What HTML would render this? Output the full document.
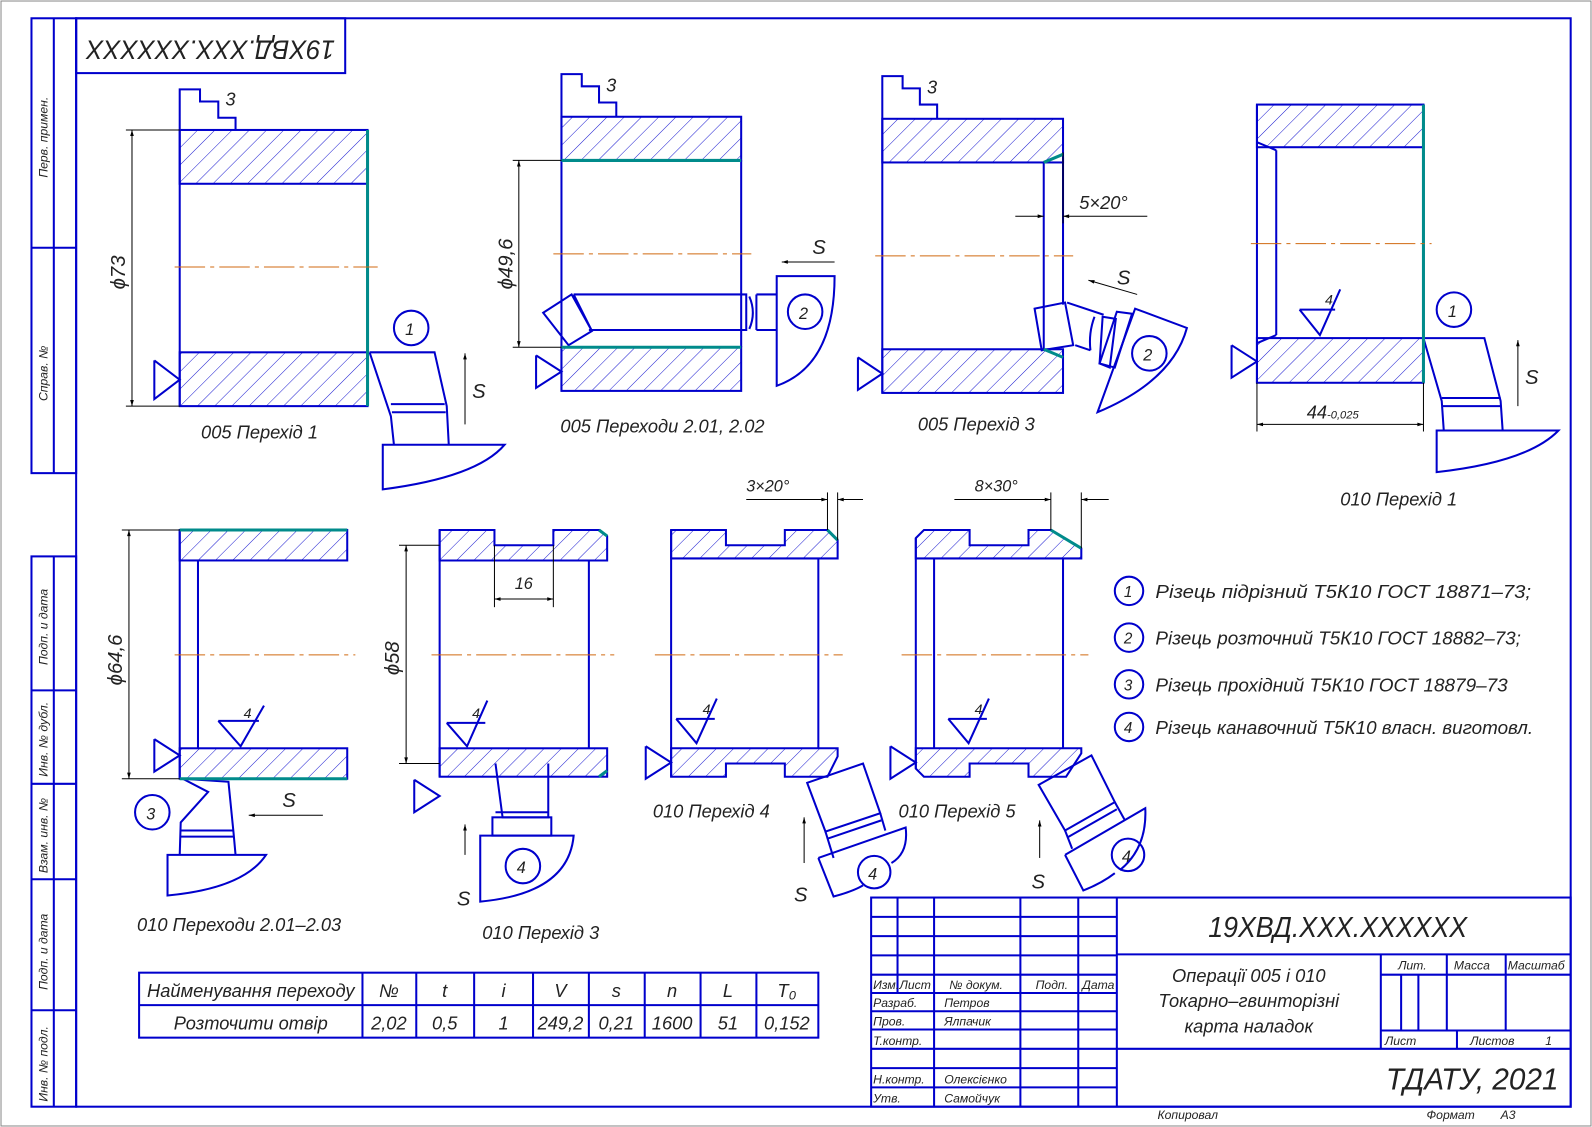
<!DOCTYPE html>
<html><head><meta charset="utf-8"><style>html,body{margin:0;padding:0;background:#fff}svg{display:block}text{font-family:"Liberation Sans",sans-serif;font-style:italic;fill:#222}</style></head><body>
<svg width="1592" height="1127" viewBox="0 0 1568 1110" preserveAspectRatio="none" xmlns="http://www.w3.org/2000/svg">
<defs>
<pattern id="h" width="12" height="12" patternUnits="userSpaceOnUse" patternTransform="rotate(45)"><line x1="0" y1="0" x2="0" y2="12" stroke="#1a1ad0" stroke-width="1"/></pattern>
<marker id="a" viewBox="0 0 10 10" refX="10" refY="5" markerWidth="10" markerHeight="6" orient="auto-start-reverse" markerUnits="userSpaceOnUse"><path d="M0,2 L10,5 L0,8z" fill="#000"/></marker>
</defs>
<rect x="1" y="1" width="1566" height="1108" fill="none" stroke="#888" stroke-width="1"/>
<g fill="none" stroke="#0000cc" stroke-width="2">
<rect x="75" y="18" width="1472" height="1072"/>
<rect x="31" y="18" width="44" height="448"/><line x1="53" y1="18" x2="53" y2="466"/><line x1="31" y1="244" x2="75" y2="244"/>
<rect x="31" y="548" width="44" height="542"/><line x1="53" y1="548" x2="53" y2="1090"/>
<line x1="31" y1="680" x2="75" y2="680"/><line x1="31" y1="772" x2="75" y2="772"/><line x1="31" y1="866" x2="75" y2="866"/><line x1="31" y1="995" x2="75" y2="995"/>
<rect x="75" y="18" width="265" height="54"/>
</g>
<g font-size="12" fill="#222">
<text transform="translate(47,175) rotate(-90)">Перв. примен.</text>
<text transform="translate(47,395) rotate(-90)">Справ. №</text>
<text transform="translate(47,655) rotate(-90)">Подп. и дата</text>
<text transform="translate(47,765) rotate(-90)">Инв. № дубл.</text>
<text transform="translate(47,860) rotate(-90)">Взам. инв. №</text>
<text transform="translate(47,975) rotate(-90)">Подп. и дата</text>
<text transform="translate(47,1085) rotate(-90)">Инв. № подл.</text>
</g>
<text transform="translate(330,40) rotate(180)" font-size="26" textLength="245" lengthAdjust="spacingAndGlyphs">19ХВД.XXX.XXXXXX</text>

<!-- View 1 -->
<g stroke="#0000cc" stroke-width="2" fill="none">
<rect x="177" y="128" width="185" height="53" fill="url(#h)"/><rect x="177" y="347" width="185" height="53" fill="url(#h)"/>
<line x1="177" y1="128" x2="177" y2="400"/>
<polyline points="177,128 177,88 197,88 197,100 215,100 215,116 232,116 232,128"/>
<polyline points="152,355 152,393 177,374 152,355"/>
<circle cx="405" cy="323" r="17"/>
<polyline points="364,347 428,347 440,400 442,438"/>
<polyline points="364,347 385,410 388,438"/>
<line x1="385" y1="398" x2="438" y2="398"/><line x1="386" y1="406" x2="439" y2="406"/>
<path d="M377,438 L497,438 Q470,470 377,482 Z"/>
</g>
<line x1="362" y1="128" x2="362" y2="400" stroke="#008b8b" stroke-width="3"/>
<line x1="172" y1="263" x2="372" y2="263" stroke="#d06a10" stroke-dasharray="30,5,4,5"/>
<g stroke="#000" stroke-width="1"><line x1="124" y1="128" x2="177" y2="128"/><line x1="124" y1="400" x2="177" y2="400"/><line x1="130" y1="128" x2="130" y2="400" marker-start="url(#a)" marker-end="url(#a)"/><line x1="458" y1="418" x2="458" y2="348" marker-end="url(#a)"/></g>
<text transform="translate(123,285) rotate(-90)" font-size="20">ϕ73</text>
<text x="222" y="104" font-size="18">3</text><text x="399" y="330" font-size="16">1</text><text x="465" y="392" font-size="20">S</text>
<text x="198" y="432" font-size="18">005 Перехід 1</text>

<!-- View 2 -->
<g stroke="#0000cc" stroke-width="2" fill="none">
<rect x="553" y="115" width="177" height="43" fill="url(#h)"/><rect x="553" y="342" width="177" height="43" fill="url(#h)"/>
<line x1="553" y1="115" x2="553" y2="385"/><line x1="730" y1="158" x2="730" y2="342"/>
<polyline points="553,115 553,73 573,73 573,85 590,85 590,101 607,101 607,115"/>
<polyline points="528,350 528,382 553,366 528,350"/>
<polygon points="535,308 563,290 583,326 560,340"/>
<polyline points="565,290 735,290 735,325 580,325"/><line x1="565" y1="290" x2="583" y2="326"/>
<path d="M738,292 Q745,308 738,324"/>
<path d="M765,272 L822,272 Q822,360 765,380 Z"/><line x1="765" y1="290" x2="745" y2="290"/><line x1="745" y1="290" x2="745" y2="325"/><line x1="745" y1="325" x2="765" y2="325"/>
<circle cx="793" cy="307" r="17"/>
</g>
<line x1="553" y1="158" x2="730" y2="158" stroke="#008b8b" stroke-width="3"/><line x1="553" y1="342" x2="730" y2="342" stroke="#008b8b" stroke-width="3"/>
<line x1="545" y1="250" x2="740" y2="250" stroke="#d06a10" stroke-dasharray="30,5,4,5"/>
<g stroke="#000" stroke-width="1"><line x1="505" y1="158" x2="553" y2="158"/><line x1="505" y1="342" x2="553" y2="342"/><line x1="511" y1="158" x2="511" y2="342" marker-start="url(#a)" marker-end="url(#a)"/><line x1="822" y1="258" x2="770" y2="258" marker-end="url(#a)"/></g>
<text transform="translate(505,285) rotate(-90)" font-size="20">ϕ49,6</text>
<text x="597" y="90" font-size="18">3</text><text x="787" y="314" font-size="16">2</text><text x="800" y="250" font-size="20">S</text>
<text x="552" y="426" font-size="18">005 Переходи 2.01, 2.02</text>

<!-- View 3 -->
<g stroke="#0000cc" stroke-width="2" fill="none">
<rect x="869" y="117" width="178" height="43" fill="url(#h)"/><rect x="869" y="344" width="178" height="43" fill="url(#h)"/>
<line x1="869" y1="117" x2="869" y2="387"/><line x1="1028" y1="160" x2="1028" y2="344"/><line x1="1047" y1="155" x2="1047" y2="300"/>
<polyline points="869,117 869,75 889,75 889,87 906,87 906,103 923,103 923,117"/>
<polyline points="845,352 845,384 869,368 845,352"/>
<polygon points="1019,304 1049,298 1057,340 1026,345"/>
<line x1="1051" y1="298" x2="1087" y2="310"/><line x1="1059" y1="340" x2="1074" y2="345"/>
<path d="M1078,312 Q1072,328 1074,345"/>
<polygon points="1086,312 1099,314 1093,362 1083,358"/>
<polygon points="1100,307 1115,309 1098,362 1083,358"/>
<path d="M1118,304 L1169,323 Q1155,375 1081,406 Z"/>
<circle cx="1132" cy="348" r="17"/>
</g>
<line x1="1028" y1="160" x2="1047" y2="152" stroke="#008b8b" stroke-width="3"/><line x1="1028" y1="344" x2="1047" y2="352" stroke="#008b8b" stroke-width="3"/>
<line x1="862" y1="252" x2="1057" y2="252" stroke="#d06a10" stroke-dasharray="30,5,4,5"/>
<g stroke="#000" stroke-width="1"><line x1="1000" y1="213" x2="1028" y2="213" marker-end="url(#a)"/><line x1="1130" y1="213" x2="1047" y2="213" marker-end="url(#a)"/><line x1="1047" y1="150" x2="1047" y2="220"/><line x1="1120" y1="290" x2="1072" y2="276" marker-end="url(#a)"/></g>
<text x="1063" y="206" font-size="18">5×20°</text>
<text x="913" y="92" font-size="18">3</text><text x="1126" y="355" font-size="16">2</text><text x="1100" y="280" font-size="20">S</text>
<text x="904" y="424" font-size="18">005 Перехід 3</text>

<!-- View 4 -->
<g stroke="#0000cc" stroke-width="2" fill="none">
<rect x="1238" y="103" width="164" height="42" fill="url(#h)"/><rect x="1238" y="333" width="164" height="44" fill="url(#h)"/>
<line x1="1238" y1="103" x2="1238" y2="377"/><line x1="1257" y1="148" x2="1257" y2="330"/>
<line x1="1238" y1="140" x2="1257" y2="148"/><line x1="1238" y1="338" x2="1257" y2="330"/>
<circle cx="1432" cy="305" r="17"/>
<polyline points="1402,333 1462,333 1478,395 1480,424"/><polyline points="1402,333 1420,395 1422,424"/>
<line x1="1420" y1="392" x2="1478" y2="392"/><line x1="1421" y1="400" x2="1479" y2="400"/>
<path d="M1415,424 L1535,424 Q1505,455 1415,465 Z"/>
<polyline points="1280,305 1300,330 1320,285"/><line x1="1280" y1="305" x2="1315" y2="305"/>
</g>
<line x1="1402" y1="103" x2="1402" y2="377" stroke="#008b8b" stroke-width="3"/>
<line x1="1232" y1="240" x2="1410" y2="240" stroke="#d06a10" stroke-dasharray="30,5,4,5"/>
<polyline points="1213,340 1213,372 1238,356 1213,340" stroke="#0000cc" stroke-width="2" fill="none"/>
<g stroke="#000" stroke-width="1"><line x1="1238" y1="377" x2="1238" y2="425"/><line x1="1402" y1="377" x2="1402" y2="425"/><line x1="1238" y1="418" x2="1402" y2="418" marker-start="url(#a)" marker-end="url(#a)"/><line x1="1495" y1="400" x2="1495" y2="335" marker-end="url(#a)"/></g>
<text x="1287" y="412" font-size="18">44<tspan font-size="11">-0,025</tspan></text>
<text x="1305" y="300" font-size="14">4</text>
<text x="1426" y="312" font-size="16">1</text><text x="1502" y="378" font-size="20">S</text>
<text x="1320" y="498" font-size="18">010 Перехід 1</text>

<!-- View 5 -->
<g stroke="#0000cc" stroke-width="2" fill="none">
<rect x="177" y="522" width="165" height="30" fill="url(#h)"/><rect x="177" y="737" width="165" height="30" fill="url(#h)"/>
<line x1="177" y1="522" x2="177" y2="767"/><line x1="195" y1="552" x2="195" y2="737"/>
<polyline points="152,728 152,760 177,744 152,728"/>
<polyline points="215,710 237,735 260,695"/><line x1="215" y1="710" x2="255" y2="710"/>
<circle cx="150" cy="800" r="17"/>
<polyline points="180,767 225,770 230,820 232,842"/><polyline points="180,767 205,780 178,810 177,842"/>
<line x1="178" y1="818" x2="230" y2="818"/><line x1="178" y1="824" x2="231" y2="824"/>
<path d="M165,842 L262,842 Q240,875 165,882 Z"/>
</g>
<line x1="177" y1="522" x2="342" y2="522" stroke="#008b8b" stroke-width="3"/><line x1="177" y1="767" x2="342" y2="767" stroke="#008b8b" stroke-width="3"/>
<line x1="172" y1="645" x2="350" y2="645" stroke="#d06a10" stroke-dasharray="30,5,4,5"/>
<g stroke="#000" stroke-width="1"><line x1="120" y1="522" x2="177" y2="522"/><line x1="120" y1="767" x2="177" y2="767"/><line x1="127" y1="522" x2="127" y2="767" marker-start="url(#a)" marker-end="url(#a)"/><line x1="318" y1="803" x2="245" y2="803" marker-end="url(#a)"/></g>
<text transform="translate(120,675) rotate(-90)" font-size="20">ϕ64,6</text>
<text x="240" y="707" font-size="14">4</text><text x="144" y="807" font-size="16">3</text><text x="278" y="795" font-size="20">S</text>
<text x="135" y="917" font-size="18">010 Переходи 2.01–2.03</text>

<!-- View 6 -->
<g stroke="#0000cc" stroke-width="2" fill="none">
<polygon points="433,522 487,522 487,537 545,537 545,522 590,522 598,528 598,552 433,552" fill="url(#h)"/>
<rect x="433" y="737" width="165" height="28" fill="url(#h)"/>
<line x1="433" y1="522" x2="433" y2="765"/><line x1="580" y1="552" x2="580" y2="737"/>
<polyline points="408,768 408,800 433,784 408,768"/>
<polyline points="440,712 460,735 480,690"/><line x1="440" y1="712" x2="478" y2="712"/>
<polyline points="488,752 495,805 540,805 540,752"/><line x1="488" y1="800" x2="540" y2="800"/>
<path d="M473,823 L565,823 Q560,880 473,888 Z"/><rect x="485" y="805" width="58" height="18"/>
<circle cx="515" cy="853" r="17"/>
</g>
<line x1="590" y1="522" x2="598" y2="528" stroke="#008b8b" stroke-width="3"/><line x1="590" y1="765" x2="598" y2="759" stroke="#008b8b" stroke-width="3"/>
<line x1="425" y1="645" x2="605" y2="645" stroke="#d06a10" stroke-dasharray="30,5,4,5"/>
<g stroke="#000" stroke-width="1"><line x1="393" y1="537" x2="433" y2="537"/><line x1="393" y1="752" x2="433" y2="752"/><line x1="400" y1="537" x2="400" y2="752" marker-start="url(#a)" marker-end="url(#a)"/><line x1="487" y1="537" x2="487" y2="598"/><line x1="545" y1="537" x2="545" y2="598"/><line x1="487" y1="590" x2="545" y2="590" marker-start="url(#a)" marker-end="url(#a)"/><line x1="458" y1="842" x2="458" y2="812" marker-end="url(#a)"/></g>
<text transform="translate(393,665) rotate(-90)" font-size="20">ϕ58</text>
<text x="507" y="580" font-size="16">16</text><text x="465" y="707" font-size="14">4</text><text x="509" y="860" font-size="16">4</text><text x="450" y="892" font-size="20">S</text>
<text x="475" y="925" font-size="18">010 Перехід 3</text>

<!-- View 7 -->
<g stroke="#0000cc" stroke-width="2" fill="none">
<polygon points="661,522 715,522 715,537 773,537 773,522 815,522 825,532 825,550 661,550" fill="url(#h)"/>
<polygon points="661,737 825,737 825,745 815,765 773,765 773,752 715,752 715,765 661,765" fill="url(#h)"/>
<line x1="661" y1="522" x2="661" y2="765"/><line x1="806" y1="550" x2="806" y2="737"/>
<polyline points="636,735 636,767 661,751 636,735"/>
<polyline points="666,708 686,732 706,688"/><line x1="666" y1="708" x2="704" y2="708"/>
<polygon points="795,771 850,752 867,801 813,819"/>
<line x1="815" y1="826" x2="868" y2="808"/>
<line x1="813" y1="819" x2="821" y2="845"/><line x1="867" y1="801" x2="872" y2="818"/>
<path d="M806,845 L892,815 Q895,840 878,850"/><path d="M806,845 L821,883 Q840,878 850,872"/>
<circle cx="861" cy="859" r="16"/>
</g>
<line x1="815" y1="522" x2="825" y2="532" stroke="#008b8b" stroke-width="3"/>
<line x1="645" y1="645" x2="830" y2="645" stroke="#d06a10" stroke-dasharray="30,5,4,5"/>
<g stroke="#000" stroke-width="1"><line x1="815" y1="485" x2="815" y2="522"/><line x1="825" y1="485" x2="825" y2="532"/><line x1="735" y1="492" x2="815" y2="492" marker-end="url(#a)"/><line x1="850" y1="492" x2="825" y2="492" marker-end="url(#a)"/><line x1="792" y1="850" x2="792" y2="805" marker-end="url(#a)"/></g>
<text x="735" y="484" font-size="16">3×20°</text>
<text x="692" y="703" font-size="14">4</text><text x="855" y="866" font-size="16">4</text><text x="782" y="888" font-size="20">S</text>
<text x="643" y="805" font-size="18">010 Перехід 4</text>

<!-- View 8 -->
<g stroke="#0000cc" stroke-width="2" fill="none">
<polygon points="902,530 910,522 955,522 955,537 1013,537 1013,522 1035,522 1065,540 1065,550 902,550" fill="url(#h)"/>
<polygon points="902,737 1065,737 1065,742 1050,765 1013,765 1013,752 955,752 955,765 910,765 902,757" fill="url(#h)"/>
<line x1="902" y1="530" x2="902" y2="757"/><line x1="920" y1="550" x2="920" y2="737"/><line x1="1047" y1="550" x2="1047" y2="737"/>
<polyline points="877,735 877,767 902,751 877,735"/>
<polyline points="934,708 954,732 974,688"/><line x1="934" y1="708" x2="972" y2="708"/>
<polygon points="1023,773 1075,744 1098,790 1049,818"/>
<line x1="1051" y1="825" x2="1100" y2="797"/>
<line x1="1049" y1="818" x2="1056" y2="836"/><line x1="1098" y1="790" x2="1108" y2="808"/>
<path d="M1049,842 L1128,796 Q1130,835 1103,857"/><path d="M1049,842 L1067,877 Q1085,870 1098,860"/>
<circle cx="1111" cy="842" r="16"/>
</g>
<line x1="1035" y1="522" x2="1065" y2="540" stroke="#008b8b" stroke-width="3"/>
<line x1="888" y1="645" x2="1072" y2="645" stroke="#d06a10" stroke-dasharray="30,5,4,5"/>
<g stroke="#000" stroke-width="1"><line x1="1035" y1="485" x2="1035" y2="522"/><line x1="1065" y1="485" x2="1065" y2="540"/><line x1="940" y1="492" x2="1035" y2="492" marker-end="url(#a)"/><line x1="1092" y1="492" x2="1065" y2="492" marker-end="url(#a)"/><line x1="1024" y1="845" x2="1024" y2="808" marker-end="url(#a)"/></g>
<text x="960" y="484" font-size="16">8×30°</text>
<text x="960" y="703" font-size="14">4</text><text x="1105" y="849" font-size="16">4</text><text x="1016" y="875" font-size="20">S</text>
<text x="885" y="805" font-size="18">010 Перехід 5</text>

<!-- Legend -->
<g stroke="#0000cc" stroke-width="2" fill="none"><circle cx="1112" cy="582" r="14"/><circle cx="1112" cy="628" r="14"/><circle cx="1112" cy="674" r="14"/><circle cx="1112" cy="716" r="14"/></g>
<g font-size="18"><text x="1107" y="588" font-size="15">1</text><text x="1107" y="634" font-size="15">2</text><text x="1107" y="680" font-size="15">3</text><text x="1107" y="722" font-size="15">4</text>
<text x="1138" y="589" textLength="370" lengthAdjust="spacingAndGlyphs">Різець підрізний Т5К10  ГОСТ 18871–73;</text>
<text x="1138" y="635" textLength="360" lengthAdjust="spacingAndGlyphs">Різець розточний Т5К10 ГОСТ 18882–73;</text>
<text x="1138" y="681" textLength="347" lengthAdjust="spacingAndGlyphs">Різець прохідний Т5К10 ГОСТ 18879–73</text>
<text x="1138" y="723" textLength="372" lengthAdjust="spacingAndGlyphs">Різець канавочний Т5К10 власн. виготовл.</text></g>

<!-- Operations table -->
<g stroke="#0000cc" stroke-width="2" fill="none"><rect x="137" y="958" width="669" height="64"/><line x1="137" y1="990" x2="806" y2="990"/>
<line x1="357" y1="958" x2="357" y2="1022"/><line x1="410" y1="958" x2="410" y2="1022"/><line x1="467" y1="958" x2="467" y2="1022"/><line x1="525" y1="958" x2="525" y2="1022"/><line x1="580" y1="958" x2="580" y2="1022"/><line x1="635" y1="958" x2="635" y2="1022"/><line x1="690" y1="958" x2="690" y2="1022"/><line x1="745" y1="958" x2="745" y2="1022"/></g>
<g font-size="18" text-anchor="middle">
<text x="247" y="982">Найменування переходу</text><text x="383" y="982">№</text><text x="438" y="982">t</text><text x="496" y="982">i</text><text x="552" y="982">V</text><text x="607" y="982">s</text><text x="662" y="982">n</text><text x="717" y="982">L</text><text x="775" y="982">T₀</text>
<text x="247" y="1014">Розточити отвір</text><text x="383" y="1014">2,02</text><text x="438" y="1014">0,5</text><text x="496" y="1014">1</text><text x="552" y="1014">249,2</text><text x="607" y="1014">0,21</text><text x="662" y="1014">1600</text><text x="717" y="1014">51</text><text x="775" y="1014">0,152</text></g>

<!-- Title block -->
<g stroke="#0000cc" stroke-width="2" fill="none">
<rect x="858" y="884" width="689" height="206"/>
<line x1="884" y1="884" x2="884" y2="978"/><line x1="920" y1="884" x2="920" y2="1090"/><line x1="1005" y1="884" x2="1005" y2="1090"/><line x1="1062" y1="884" x2="1062" y2="1090"/><line x1="1100" y1="884" x2="1100" y2="1090"/>
<line x1="858" y1="903" x2="1100" y2="903"/><line x1="858" y1="922" x2="1100" y2="922"/><line x1="858" y1="941" x2="1100" y2="941"/><line x1="858" y1="960" x2="1100" y2="960"/><line x1="858" y1="978" x2="1100" y2="978"/><line x1="858" y1="996" x2="1100" y2="996"/><line x1="858" y1="1014" x2="1100" y2="1014"/><line x1="858" y1="1033" x2="1100" y2="1033"/><line x1="858" y1="1052" x2="1100" y2="1052"/><line x1="858" y1="1071" x2="1100" y2="1071"/>
<line x1="1100" y1="940" x2="1547" y2="940"/><line x1="1360" y1="940" x2="1360" y2="1033"/><line x1="1360" y1="960" x2="1547" y2="960"/>
<line x1="1425" y1="940" x2="1425" y2="1015"/><line x1="1483" y1="940" x2="1483" y2="1015"/>
<line x1="1380" y1="960" x2="1380" y2="1015"/><line x1="1397" y1="960" x2="1397" y2="1015"/>
<line x1="1360" y1="1015" x2="1547" y2="1015"/><line x1="1435" y1="1015" x2="1435" y2="1033"/>
<line x1="1100" y1="1033" x2="1547" y2="1033"/>
</g>
<g font-size="12"><text x="860" y="974">Изм.</text><text x="886" y="974">Лист</text><text x="935" y="974">№ докум.</text><text x="1020" y="974">Подп.</text><text x="1066" y="974">Дата</text>
<text x="860" y="992">Разраб.</text><text x="930" y="992">Петров</text><text x="860" y="1010">Пров.</text><text x="930" y="1010">Ялпачик</text><text x="860" y="1029">Т.контр.</text>
<text x="860" y="1067">Н.контр.</text><text x="930" y="1067">Олексієнко</text><text x="860" y="1086">Утв.</text><text x="930" y="1086">Самойчук</text>
<text x="1377" y="955">Лит.</text><text x="1432" y="955">Масса</text><text x="1485" y="955">Масштаб</text>
<text x="1364" y="1029">Лист</text><text x="1448" y="1029">Листов</text><text x="1522" y="1029">1</text>
<text x="1140" y="1102">Копировал</text><text x="1405" y="1102">Формат</text><text x="1478" y="1102">А3</text></g>
<text x="1190" y="923" font-size="28" textLength="255" lengthAdjust="spacingAndGlyphs">19ХВД.XXX.XXXXXX</text>
<g font-size="18" text-anchor="middle"><text x="1230" y="967">Операції 005 і 010</text><text x="1230" y="992">Токарно–гвинторізні</text><text x="1230" y="1017">карта наладок</text></g>
<text x="1365" y="1073" font-size="30" textLength="170" lengthAdjust="spacingAndGlyphs">ТДАТУ, 2021</text>
</svg>
</body></html>
